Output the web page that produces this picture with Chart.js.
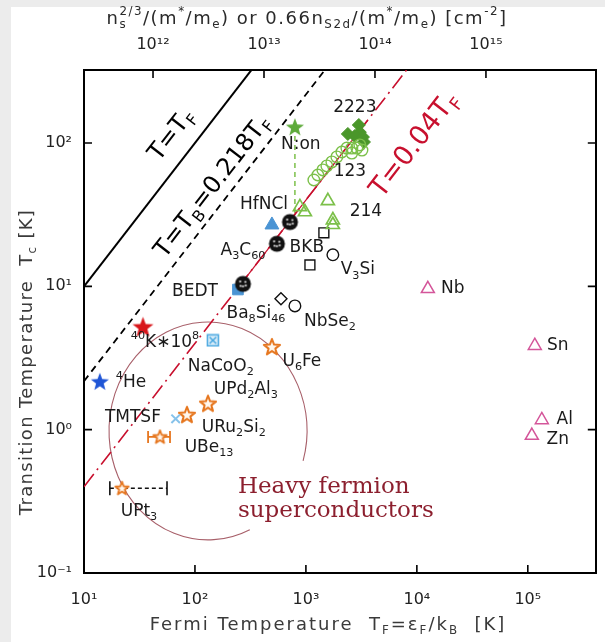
<!DOCTYPE html>
<html><head><meta charset="utf-8">
<script src="https://cdn.jsdelivr.net/npm/chart.js@4.4.0/dist/chart.umd.min.js"></script>
<style>html,body{margin:0;padding:0;background:#fff;overflow:hidden}</style>
</head><body>
<canvas id="c" width="605" height="642" style="display:block;width:605px;height:642px"></canvas>
<script>
// ---------- axes ----------
const X_MIN = 10, X_MAX = 4.1e5;            // Fermi temperature [K]
const Y_MIN = 0.1, Y_MAX = 323;             // Tc [K]
const N_MIN = 2.388e11, N_MAX = 9.77e15;    // top axis [cm^-2]
const X_TICKS = [10, 100, 1000, 10000, 100000];
const Y_TICKS = [0.1, 1, 10, 100];
const N_TICKS = [1e12, 1e13, 1e14, 1e15];

// ---------- data: [T_F, Tc] ----------
const HE4 = [[13.9, 2.16]];
const K40 = [[34, 5.2]];
const N_ON = [[796, 129]];
const N_ON_TC_RANGE = [32.5, 129];
const CU2223 = [[2388,115.6],[3000,133.5],[3062,119],[2761,111.9],[3266,110],[3336,101.6]];
const CU123 = [[1180,55.2],[1282,59.8],[1422,64.9],[1545,69.2],[1714,73.8],[1901,79.9],[2109,86.5],[2339,92.2],[2594,92.2],[2877,92.2],[3062,96.9],[3199,89.3],[2594,85.1]];
const CU214 = [[883,35.8],[979,33],[1578,39.5],[1750,29],[1750,26.9]];
const C60 = [[271,10.4],[548,19.8],[718,28.1]];
const HFNCL = [[494,26.8]];
const BEDT = [[244,9.5]];
const NACOO2 = [[145,4.2]];
const TMTSF = [[67,1.19]];
const OPEN_SQUARES = [[1452,23.6],[1087,14.1]];
const OPEN_CIRCLES = [[1750,16.6],[796,7.3]];
const OPEN_DIAMONDS = [[596,8.2]];
const HEAVY_FERMION = [[494,3.78],[131,1.52],[84.7,1.27],[48.4,0.89],[22,0.39]];
const ELEMENTS = [[12560,9.6],[115600,3.85],[133700,1.17],[108700,0.91]];
const UBE13_TF_RANGE = [37.8, 59.6], UBE13_TC = 0.89;
const UPT3_TF_RANGE = [17.1, 56], UPT3_TC = 0.39;
const RATIO_TF = 1, RATIO_TB = 0.218, RATIO_UEMURA = 0.04;
const UEMURA_SOLID_RANGE = [230, 3600];

// ---------- annotations: [text, T_F, Tc] (text centre) ----------
const LABELS = [
 ['2223', 2760, 178], ['N:on', 900, 97], ['123', 2490, 62.8], ['HfNCl', 419, 37],
 ['214', 3475, 33], ['A_3C_{60}', 271, 17.9], ['BKB', 1020, 18.5], ['V_3Si', 2940, 13],
 ['BEDT', 100, 9.2], ['Ba_8Si_{46}', 355, 6.5], ['NbSe_2', 1645, 5.66],
 ['^{40}K∗10^8', 53.7, 4.04], ['NaCoO_2', 171, 2.75], ['U_6Fe', 920, 2.98],
 ['^4He', 26.5, 2.13], ['UPd_2Al_3', 288, 1.9], ['TMTSF', 27.6, 1.21],
 ['URu_2Si_2', 224, 1.03], ['UBe_{13}', 134, 0.75], ['UPt_3', 31.3, 0.27],
 ['Nb', 21100, 9.6], ['Sn', 186000, 3.85], ['Al', 215000, 1.17], ['Zn', 186000, 0.85]
];
const LINE_LABELS = [
 ['T=T_F', 62.1, 113.6, '#000', 24],
 ['T=T_B=0.218T_F', 145, 49.4, '#000', 24],
 ['T=0.04T_F', 9600, 96.9, '#c8102e', 27]
];
const HF_TEXT = ['Heavy fermion', 'superconductors'];
const HF_TEXT_AT = [[244, 0.40], [244, 0.27]];
const HF_CIRCLE_CENTER = [131, 0.98], HF_CIRCLE_DECADES = [0.892, 0.76];

// ---------- marker glyphs ----------
function starCanvas(R, fill, stroke, lw) {
  const s = Math.ceil(2*R + lw + 3);
  const c = document.createElement('canvas'); c.width = c.height = s;
  const g = c.getContext('2d'); const cx = s/2, cy = s/2 + R*0.06, r = R*0.42;
  g.beginPath();
  for (let i=0;i<10;i++){ const a=-Math.PI/2+i*Math.PI/5, rr=i%2?r:R; g.lineTo(cx+rr*Math.cos(a), cy+rr*Math.sin(a)); }
  g.closePath();
  if (fill){ g.fillStyle=fill; g.fill(); }
  if (stroke){ g.strokeStyle=stroke; g.lineWidth=lw; g.lineJoin='round'; g.stroke(); }
  return c;
}
function c60Canvas(R){
  const s = Math.ceil(2*R+3); const c=document.createElement('canvas'); c.width=c.height=s;
  const g=c.getContext('2d'); const cx=s/2, cy=s/2;
  g.beginPath(); g.arc(cx,cy,R,0,Math.PI*2); g.fillStyle='#111'; g.fill();
  g.fillStyle='#ddd';
  [[-0.35,-0.3],[0.3,-0.25],[0,0.3],[-0.3,0.25],[0.35,0.2]].forEach(([a,b])=>{g.beginPath(); g.arc(cx+a*R,cy+b*R,R*0.14,0,Math.PI*2); g.fill();});
  return c;
}
function boxXCanvas(h, col){
  const s=Math.ceil(2*h+3); const c=document.createElement('canvas'); c.width=c.height=s;
  const g=c.getContext('2d'); const o=s/2;
  g.fillStyle='#d8ecf8'; g.fillRect(o-h,o-h,2*h,2*h);
  g.strokeStyle=col; g.lineWidth=1.5; g.strokeRect(o-h,o-h,2*h,2*h);
  g.beginPath(); g.moveTo(o-h*0.6,o-h*0.6); g.lineTo(o+h*0.6,o+h*0.6); g.moveTo(o+h*0.6,o-h*0.6); g.lineTo(o-h*0.6,o+h*0.6); g.stroke();
  return c;
}

const GREEN = '#7cc04a', GREEN_D = '#4a962a', BLUE_L = '#4a94d4', ORANGE = '#e6761e', PINK = '#d4569a';
const hfBig = starCanvas(8.5, '#fff7ee', ORANGE, 2), hfSmall = starCanvas(7, '#fff7ee', ORANGE, 1.8);

const pts = a => a.map(([x,y]) => ({x, y}));
const mk = (a, st) => Object.assign({data: pts(a), showLine:false, order:1}, st);
const seg = (a, st) => Object.assign({data: pts(a), showLine:true, pointRadius:0, fill:false, order:5}, st);
const ratioLine = r => [[X_MIN, r*X_MIN], [X_MAX, r*X_MAX]];

const datasets = [
  seg(ratioLine(RATIO_TF), {borderColor:'#000', borderWidth:2}),
  seg(ratioLine(RATIO_TB), {borderColor:'#000', borderWidth:1.8, borderDash:[7,5]}),
  seg(ratioLine(RATIO_UEMURA), {borderColor:'#c8102e', borderWidth:1.6, borderDash:[16,5,2,5]}),
  seg(UEMURA_SOLID_RANGE.map(t=>[t, RATIO_UEMURA*t]), {borderColor:'#c8102e', borderWidth:1.2}),
  seg(N_ON_TC_RANGE.map(tc=>[N_ON[0][0], tc]), {borderColor:GREEN, borderWidth:1.5, borderDash:[5,4]}),
  seg(UBE13_TF_RANGE.map(t=>[t, UBE13_TC]), {borderColor:ORANGE, borderWidth:1.6, pointRadius:6, pointStyle:'line', rotation:90, pointBorderColor:ORANGE, pointBorderWidth:1.8}),
  seg(UPT3_TF_RANGE.map(t=>[t, UPT3_TC]), {borderColor:'#111', borderWidth:1.4, borderDash:[4,3], pointRadius:7, pointStyle:'line', rotation:90, pointBorderColor:'#111', pointBorderWidth:1.6}),
  mk(CU123, {pointStyle:'circle', pointRadius:5.8, borderColor:GREEN, backgroundColor:'rgba(255,255,255,0)', borderWidth:1.4}),
  mk(CU214, {pointStyle:'triangle', pointRadius:7.5, borderColor:GREEN, backgroundColor:'rgba(255,255,255,0)', borderWidth:1.7}),
  mk(CU2223, {pointStyle:'rectRot', pointRadius:6.5, borderColor:GREEN_D, backgroundColor:GREEN_D, borderWidth:1}),
  mk(N_ON, {pointStyle: starCanvas(9.5, '#5daa3a', null, 0)}),
  mk(HE4, {pointStyle: starCanvas(9.5, '#1f55d6', null, 0)}),
  mk(K40, {pointStyle: starCanvas(11, '#d8161b', null, 0)}),
  mk(C60, {pointStyle: c60Canvas(8)}),
  mk(HFNCL, {pointStyle:'triangle', pointRadius:8, borderColor:BLUE_L, backgroundColor:BLUE_L, borderWidth:1}),
  mk(BEDT, {pointStyle:'rect', pointRadius:7.5, borderColor:BLUE_L, backgroundColor:BLUE_L, borderWidth:1}),
  mk(NACOO2, {pointStyle: boxXCanvas(5.5, '#4aa8e0')}),
  mk(TMTSF, {pointStyle:'crossRot', pointRadius:6, borderColor:'#86c2ea', borderWidth:2}),
  mk(OPEN_SQUARES, {pointStyle:'rect', pointRadius:7, borderColor:'#111', backgroundColor:'#fff', borderWidth:1.4}),
  mk(OPEN_CIRCLES, {pointStyle:'circle', pointRadius:5.8, borderColor:'#111', backgroundColor:'#fff', borderWidth:1.4}),
  mk(OPEN_DIAMONDS, {pointStyle:'rectRot', pointRadius:6, borderColor:'#111', backgroundColor:'#fff', borderWidth:1.4}),
  mk(HEAVY_FERMION, {pointStyle: HEAVY_FERMION.map((p,i)=> i<3 ? hfBig : hfSmall)}),
  mk(ELEMENTS, {pointStyle:'triangle', pointRadius:7.5, borderColor:PINK, backgroundColor:'rgba(255,255,255,0)', borderWidth:1.5}),
];

// ---------- rich text ----------
const SANS = "'DejaVu Sans'", SERIF = "'DejaVu Serif'";
function parseRich(s){
  const segs=[]; let i=0, buf='';
  const flush=()=>{ if(buf){segs.push({t:buf,m:0}); buf='';} };
  while(i<s.length){
    const c=s[i];
    if(c==='_'||c==='^'){
      flush(); let t;
      if(s[i+1]==='{'){ const j=s.indexOf('}',i+2); t=s.slice(i+2,j); i=j+1; }
      else { t=s[i+1]; i+=2; }
      segs.push({t, m: c==='_'?1:2});
    } else { buf+=c; i++; }
  }
  flush(); return segs;
}
const fontStr = (fs, fam) => fs + 'px ' + fam;
function drawRich(ctx, s, x, y, o){
  ctx.save();
  ctx.translate(x, y); if (o.rot) ctx.rotate(o.rot);
  try { ctx.letterSpacing = o.ls || '0px'; } catch(e) {}
  const items=[]; let cx=0, prev=null;
  for (const sg of parseRich(s)){
    const fs = sg.m ? o.size*0.66 : o.size;
    ctx.font = fontStr(fs, o.family);
    const w = ctx.measureText(sg.t).width;
    let sx = cx;
    if (sg.m===2 && prev && prev.m===1){ sx = prev.x; cx = Math.max(prev.x+prev.w, sx+w); }
    else cx = sx + w;
    const dy = sg.m===1 ? o.size*0.33 : sg.m===2 ? -o.size*0.4 : 0;
    const it = {t:sg.t, m:sg.m, x:sx, w, fs, dy}; items.push(it); prev = it;
  }
  const x0 = o.align==='left' ? 0 : -cx/2;
  ctx.fillStyle = o.color; ctx.textBaseline='middle'; ctx.textAlign='left';
  for (const it of items){ ctx.font = fontStr(it.fs, o.family); ctx.fillText(it.t, x0+it.x, it.dy); }
  ctx.restore();
}

const SUP = {'0':'⁰','1':'¹','2':'²','3':'³','4':'⁴','5':'⁵','6':'⁶','7':'⁷','8':'⁸','9':'⁹','-':'⁻'};
const pow10 = v => '10' + String(Math.round(Math.log10(v))).split('').map(c=>SUP[c]).join('');

const decor = {
  id:'decor',
  beforeDraw(chart){
    const ctx = chart.ctx; ctx.save();
    ctx.fillStyle='#fff'; ctx.fillRect(0,0,chart.width,chart.height);
    ctx.fillStyle='#ececec'; ctx.fillRect(0,0,11,chart.height); ctx.fillRect(0,0,chart.width,7);
    ctx.restore();
  },
  beforeDatasetsDraw(chart){
    const {ctx, scales:{x,y}, chartArea:a} = chart;
    const cx = x.getPixelForValue(HF_CIRCLE_CENTER[0]), cy = y.getPixelForValue(HF_CIRCLE_CENTER[1]);
    const rx = Math.abs(x.getPixelForValue(HF_CIRCLE_CENTER[0]*Math.pow(10,HF_CIRCLE_DECADES[0])) - cx);
    const ry = Math.abs(y.getPixelForValue(HF_CIRCLE_CENTER[1]*Math.pow(10,HF_CIRCLE_DECADES[1])) - cy);
    ctx.save(); ctx.beginPath(); ctx.rect(a.left,a.top,a.right-a.left,a.bottom-a.top); ctx.clip();
    ctx.strokeStyle='#a8606a'; ctx.lineWidth=1.1;
    ctx.beginPath(); ctx.ellipse(cx, cy, rx, ry, 0, 65*Math.PI/180, 376*Math.PI/180); ctx.stroke();
    ctx.restore();
  },
  afterDatasetsDraw(chart){
    const {ctx, scales:{x,y}} = chart;
    LABELS.forEach(([t,tf,tc]) => drawRich(ctx, t, x.getPixelForValue(tf), y.getPixelForValue(tc), {size:17, family:SANS, color:'#1a1a1a'}));
    const ang = Math.atan2(y.getPixelForValue(100)-y.getPixelForValue(10), x.getPixelForValue(100)-x.getPixelForValue(10));
    LINE_LABELS.forEach(([t,tf,tc,col,sz]) => drawRich(ctx, t, x.getPixelForValue(tf), y.getPixelForValue(tc), {size:sz, family:SANS, color:col, rot:ang}));
    HF_TEXT.forEach((t,i) => drawRich(ctx, t, x.getPixelForValue(HF_TEXT_AT[i][0]), y.getPixelForValue(HF_TEXT_AT[i][1]), {size:23, family:SERIF, color:'#8c1f2e', align:'left'}));
  },
  afterDraw(chart){
    const {ctx, chartArea:a, scales:{x,y,x2}} = chart;
    ctx.save(); ctx.strokeStyle='#000'; ctx.lineWidth=1.6; ctx.beginPath();
    X_TICKS.forEach(v=>{const p=x.getPixelForValue(v); ctx.moveTo(p,a.bottom); ctx.lineTo(p,a.bottom-8);});
    N_TICKS.forEach(v=>{const p=x2.getPixelForValue(v); ctx.moveTo(p,a.top); ctx.lineTo(p,a.top+8);});
    Y_TICKS.forEach(v=>{const p=y.getPixelForValue(v); ctx.moveTo(a.left,p); ctx.lineTo(a.left+8,p); ctx.moveTo(a.right,p); ctx.lineTo(a.right-8,p);});
    ctx.stroke(); ctx.restore();
    // axis titles
    drawRich(ctx, 'n_s^{2/3}/(m^*/m_e) or 0.66n_{S2d}/(m^*/m_e) [cm^{-2}]', 307, 19, {size:18, family:SANS, color:'#2a2a2a', ls:'1.5px'});
    drawRich(ctx, 'Fermi Temperature  T_F=ε_F/k_B  [K]', 328, 625, {size:18, family:SANS, color:'#3a3a3a', ls:'2px'});
    drawRich(ctx, 'Transition Temperature  T_c [K]', 27, 362, {size:18, family:SANS, color:'#3a3a3a', ls:'1.3px', rot:-Math.PI/2});
  }
};

const tickFont = {family:"'DejaVu Sans'", size:16};
const axisBase = (ticksArr) => ({
  type:'logarithmic',
  afterBuildTicks: s => { s.ticks = ticksArr.map(v=>({value:v})); },
  grid:{display:false, drawTicks:false},
  border:{display:true, color:'#000', width:2},
});

new Chart(document.getElementById('c'), {
  type:'scatter',
  data:{datasets},
  options:{
    responsive:false, devicePixelRatio:1, animation:false,
    layout:{padding:0},
    plugins:{legend:{display:false}, tooltip:{enabled:false}},
    scales:{
      x: Object.assign(axisBase(X_TICKS), {position:'bottom', min:X_MIN, max:X_MAX,
        ticks:{callback:v=>pow10(v), font:tickFont, color:'#222', padding:17, maxRotation:0, autoSkip:false},
        afterFit: s => { s.height = 69; }}),
      x2: Object.assign(axisBase(N_TICKS), {position:'top', axis:'x', min:N_MIN, max:N_MAX,
        ticks:{callback:v=>pow10(v), font:tickFont, color:'#222', padding:16, maxRotation:0, autoSkip:false},
        afterFit: s => { s.height = 70; }}),
      y: Object.assign(axisBase(Y_TICKS), {position:'left', min:Y_MIN, max:Y_MAX,
        ticks:{callback:v=>pow10(v), font:tickFont, color:'#222', padding:12, autoSkip:false},
        afterFit: s => { s.width = 84; }}),
      y2: Object.assign(axisBase(Y_TICKS), {position:'right', axis:'y', min:Y_MIN, max:Y_MAX,
        ticks:{display:false},
        afterFit: s => { s.width = 9; }}),
    }
  },
  plugins:[decor]
});
</script>
</body></html>
